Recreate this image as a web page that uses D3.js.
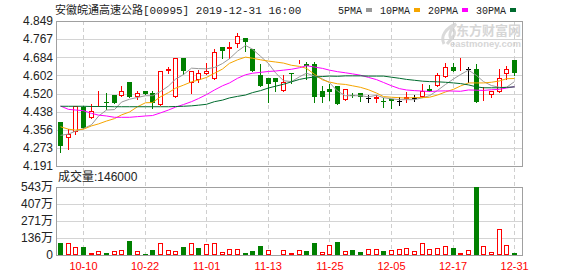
<!DOCTYPE html>
<html>
<head>
<meta charset="utf-8">
<script src="https://cdn.jsdelivr.net/npm/d3@7/dist/d3.min.js"></script>
<style>
  body { margin: 0; background: #fff; }
  text { font-family: Arial, "Liberation Sans", "Noto Sans CJK SC", sans-serif; }
</style>
</head>
<body>
<div id="chart"></div>
<script>
const dates = [
  '10-04','10-08','10-09','10-10','10-11','10-14','10-15','10-16','10-17','10-18',
  '10-21','10-22','10-23','10-24','10-25','10-28','10-29','10-30','10-31','11-01',
  '11-04','11-05','11-06','11-07','11-08','11-11','11-12','11-13','11-14','11-15',
  '11-18','11-19','11-20','11-21','11-22','11-25','11-26','11-27','11-28','11-29',
  '12-02','12-03','12-04','12-05','12-06','12-09','12-10','12-11','12-12','12-13',
  '12-16','12-17','12-18','12-19','12-20','12-23','12-24','12-27','12-30','12-31'
]
const open = [
  4.389,4.317,4.347,4.457,4.407,4.476,4.483,4.513,4.509,4.572,
  4.506,4.531,4.522,4.467,4.622,4.506,4.682,4.566,4.581,4.607,
  4.584,4.731,4.723,4.743,4.770,4.722,4.604,4.589,4.589,4.533,
  4.614,4.657,4.653,4.654,4.531,4.540,4.554,4.491,4.513,4.522,
  4.501,4.494,4.487,4.496,4.485,4.497,4.501,4.506,4.540,4.556,
  4.594,4.640,4.625,4.630,4.630,4.501,4.515,4.525,4.607,4.672
]
const high = [
  4.392,4.360,4.463,4.463,4.472,4.531,4.521,4.513,4.555,4.572,
  4.531,4.531,4.531,4.622,4.642,4.682,4.682,4.622,4.627,4.657,
  4.722,4.731,4.754,4.793,4.770,4.722,4.653,4.589,4.589,4.604,
  4.614,4.672,4.663,4.663,4.554,4.562,4.554,4.539,4.522,4.522,
  4.515,4.513,4.498,4.496,4.503,4.528,4.515,4.562,4.559,4.613,
  4.657,4.657,4.682,4.639,4.653,4.551,4.533,4.631,4.645,4.672
]
const low = [
  4.253,4.268,4.335,4.365,4.407,4.463,4.448,4.476,4.509,4.506,
  4.494,4.518,4.453,4.467,4.614,4.506,4.609,4.524,4.571,4.607,
  4.584,4.682,4.682,4.732,4.714,4.623,4.555,4.483,4.533,4.533,
  4.569,4.657,4.584,4.483,4.483,4.491,4.472,4.491,4.506,4.485,
  4.483,4.483,4.457,4.456,4.468,4.480,4.487,4.506,4.531,4.556,
  4.594,4.623,4.625,4.574,4.483,4.491,4.506,4.525,4.584,4.604
]
const close = [
  4.283,4.338,4.463,4.365,4.439,4.481,4.476,4.476,4.531,4.506,
  4.521,4.518,4.476,4.622,4.631,4.680,4.622,4.622,4.612,4.622,
  4.710,4.714,4.731,4.781,4.754,4.623,4.555,4.565,4.574,4.571,
  4.607,4.664,4.646,4.506,4.506,4.525,4.472,4.539,4.510,4.505,
  4.501,4.504,4.483,4.485,4.485,4.504,4.501,4.530,4.531,4.603,
  4.642,4.623,4.630,4.630,4.483,4.504,4.533,4.589,4.631,4.612
]
const volume = [
  960000,960000,640000,640000,190000,320000,190000,320000,400000,1140000,
  320000,100000,400000,960000,400000,320000,640000,960000,590000,880000,
  960000,240000,480000,480000,190000,320000,720000,400000,80000,400000,
  160000,400000,320000,960000,240000,800000,1040000,320000,400000,240000,
  480000,480000,320000,400000,480000,560000,320000,960000,480000,560000,
  720000,590000,160000,400000,5430000,720000,240000,2080000,800000,146000
]
// 1 = red (up) volume bar, 0 = green
const volUp = [
  0,1,1,0,1,1,0,1,1,0,
  1,0,0,1,1,1,0,1,0,1,
  1,1,1,1,0,0,0,1,1,1,
  1,1,0,0,1,1,0,1,0,0,
  1,1,0,1,1,1,1,1,1,1,
  1,0,1,1,0,1,1,1,1,0
]
const ma5 = [
  4.330,4.336,4.349,4.361,4.378,4.417,4.445,4.447,4.481,4.494,
  4.502,4.510,4.510,4.529,4.554,4.585,4.606,4.635,4.633,4.632,
  4.638,4.656,4.678,4.712,4.738,4.721,4.689,4.656,4.614,4.578,
  4.574,4.596,4.612,4.599,4.586,4.569,4.531,4.510,4.510,4.510,
  4.505,4.512,4.501,4.496,4.492,4.492,4.492,4.501,4.510,4.534,
  4.561,4.586,4.606,4.626,4.602,4.574,4.556,4.548,4.548,4.574
]
const ma10 = [
  4.369,4.358,4.354,4.358,4.373,4.382,4.395,4.406,4.423,4.436,
  4.460,4.478,4.479,4.505,4.524,4.544,4.558,4.573,4.581,4.593,
  4.612,4.631,4.657,4.673,4.685,4.680,4.673,4.667,4.663,4.658,
  4.648,4.643,4.634,4.607,4.582,4.572,4.564,4.561,4.555,4.548,
  4.537,4.522,4.506,4.503,4.501,4.499,4.502,4.501,4.503,4.513,
  4.527,4.539,4.554,4.568,4.568,4.568,4.571,4.577,4.587,4.588
]
const ma20 = [
  4.463,4.448,4.445,4.442,4.430,4.422,4.418,4.412,4.412,4.412,
  4.415,4.418,4.420,4.432,4.445,4.458,4.470,4.483,4.497,4.515,
  4.536,4.555,4.568,4.589,4.605,4.612,4.616,4.620,4.622,4.626,
  4.630,4.637,4.646,4.640,4.634,4.626,4.619,4.614,4.609,4.603,
  4.593,4.583,4.570,4.555,4.542,4.536,4.533,4.531,4.529,4.531,
  4.532,4.531,4.530,4.536,4.535,4.534,4.537,4.539,4.545,4.551
]
const ma30 = [
  4.462,4.462,4.462,4.462,4.461,4.461,4.461,4.460,4.460,4.460,
  4.460,4.460,4.460,4.460,4.460,4.461,4.462,4.464,4.467,4.471,
  4.483,4.490,4.500,4.507,4.513,4.524,4.533,4.545,4.553,4.562,
  4.573,4.584,4.590,4.595,4.597,4.599,4.598,4.600,4.600,4.600,
  4.599,4.599,4.599,4.594,4.589,4.584,4.580,4.576,4.574,4.573,
  4.571,4.568,4.565,4.559,4.550,4.546,4.546,4.546,4.548,4.550
]
const priceTicks = [4.849, 4.767, 4.684, 4.602, 4.520, 4.438, 4.356, 4.273, 4.191]
const volTicks = [5430000, 4072500, 2715000, 1357500, 0]
const volTickLabels = ['543万', '407万', '271万', '136万', '0']
const dateTicks = ['10-10', '10-22', '11-01', '11-13', '11-25', '12-05', '12-17', '12-31']
const maNames = ['5PMA', '10PMA', '20PMA', '30PMA']
const maColors = ['#999999', '#f5a500', '#ff00ff', '#006b2e']

const Width = 578
const Height = 276
const Left = 56, Right = 522
const PTop = 21, PBottom = 166
const VTop = 187, VBottom = 255
const Red = '#ff0000', Green = '#008000'

const svg = d3.select('#chart').append('svg')
  .attr('width', Width)
  .attr('height', Height)

const x = d3.scaleBand().domain(dates).range([Left, 518])
const y = d3.scaleLinear().domain([4.191, 4.849]).range([PBottom, PTop])
const yv = d3.scaleLinear().domain([0, 5430000]).range([VBottom, VTop])
const cx = d => Math.round(x(d) + x.bandwidth() / 2)

// watermark
svg.append('text').attr('x', 521).attr('y', 35).attr('text-anchor', 'end')
  .attr('font-size', 13).attr('font-weight', 'bold').attr('fill', '#d6d6d6')
  .style('font-family', '"Noto Sans CJK SC", sans-serif')
  .text('东方财富网')
svg.append('text').attr('x', 521).attr('y', 47).attr('text-anchor', 'end')
  .attr('font-size', 9.5).attr('font-weight', 'bold').attr('fill', '#d6d6d6')
  .text('eastmoney.com')
svg.append('path')
  .attr('d', 'M444,44 C440,36 446,28 456,24 C450,30 448,36 452,40 M447,44 C452,38 458,34 452,28')
  .attr('fill', 'none').attr('stroke', '#dadada').attr('stroke-width', 3)

// horizontal grid
svg.append('g').selectAll('line').data(priceTicks).enter().append('line')
  .attr('x1', Left).attr('x2', Right)
  .attr('y1', d => Math.round(y(d)) + 0.5).attr('y2', d => Math.round(y(d)) + 0.5)
  .attr('stroke', '#d4d4d4')
svg.append('g').selectAll('line').data(volTicks).enter().append('line')
  .attr('x1', Left).attr('x2', Right)
  .attr('y1', d => Math.round(yv(d)) + 0.5).attr('y2', d => Math.round(yv(d)) + 0.5)
  .attr('stroke', '#d4d4d4')

// vertical dashed grid
svg.append('g').selectAll('line').data(dateTicks).enter().append('line')
  .attr('x1', d => cx(d) + 0.5).attr('x2', d => cx(d) + 0.5)
  .attr('y1', PTop).attr('y2', VBottom)
  .attr('stroke', '#cfcfcf').attr('stroke-dasharray', '4,3')

// panel borders
svg.append('rect').attr('x', Left + 0.5).attr('y', PTop + 0.5)
  .attr('width', Right - Left).attr('height', PBottom - PTop)
  .attr('fill', 'none').attr('stroke', '#a0a0a0')
svg.append('rect').attr('x', Left + 0.5).attr('y', VTop + 0.5)
  .attr('width', Right - Left).attr('height', VBottom - VTop)
  .attr('fill', 'none').attr('stroke', '#a0a0a0')

// axes labels
const yAxis = svg.append('g').attr('transform', `translate(${Left},0)`)
  .call(d3.axisLeft(y).tickValues(priceTicks).tickSize(0).tickPadding(3).tickFormat(d3.format('.3f')))
yAxis.select('.domain').remove()
yAxis.selectAll('text').attr('font-size', 12).attr('fill', '#222')
  .style('font-family', 'Arial, "Liberation Sans", sans-serif')

const vAxis = svg.append('g').attr('transform', `translate(${Left},0)`)
  .call(d3.axisLeft(yv).tickValues(volTicks).tickSize(0).tickPadding(3)
    .tickFormat((d, i) => volTickLabels[i]))
vAxis.select('.domain').remove()
vAxis.selectAll('text').attr('font-size', 12).attr('fill', '#222')
  .style('font-family', 'Arial, "Liberation Sans", "Noto Sans CJK SC", sans-serif')

const xAxis = svg.append('g').attr('transform', `translate(0.5,${VBottom})`)
  .call(d3.axisBottom(x).tickValues(dateTicks).tickSize(0).tickPadding(7))
xAxis.select('.domain').remove()
xAxis.selectAll('text').attr('font-size', 11).attr('fill', Red)
  .style('font-family', 'Arial, "Liberation Sans", sans-serif')

// candles
const idx = d3.range(dates.length)
const candles = svg.append('g').selectAll('g').data(idx).enter().append('g')
const colorOf = i => close[i] > open[i] ? Red : (close[i] < open[i] ? Green : '#000')

candles.append('line')
  .attr('x1', i => cx(dates[i]) + 0.5).attr('x2', i => cx(dates[i]) + 0.5)
  .attr('y1', i => Math.round(y(high[i]))).attr('y2', i => Math.round(y(low[i])) + 1)
  .attr('stroke', colorOf)

candles.filter(i => close[i] < open[i]).append('rect')
  .attr('x', i => cx(dates[i]) - 2)
  .attr('y', i => Math.round(y(open[i])))
  .attr('width', 5)
  .attr('height', i => Math.max(1, Math.round(y(close[i])) - Math.round(y(open[i]))))
  .attr('fill', Green)

candles.filter(i => close[i] > open[i]).append('rect')
  .attr('x', i => cx(dates[i]) - 1.5)
  .attr('y', i => Math.round(y(close[i])) + 0.5)
  .attr('width', 4)
  .attr('height', i => Math.max(0, Math.round(y(open[i])) - Math.round(y(close[i])) - 1))
  .attr('fill', '#fff').attr('stroke', Red)

candles.filter(i => close[i] === open[i]).append('line')
  .attr('x1', i => cx(dates[i]) - 2).attr('x2', i => cx(dates[i]) + 3)
  .attr('y1', i => Math.round(y(close[i])) + 0.5).attr('y2', i => Math.round(y(close[i])) + 0.5)
  .attr('stroke', '#000')

// moving averages
const mas = [ma5, ma10, ma20, ma30]
mas.forEach((ma, k) => {
  const line = d3.line()
    .x((d, i) => cx(dates[i]) + 0.5)
    .y(d => y(d))
  svg.append('path').datum(ma)
    .attr('d', line)
    .attr('fill', 'none')
    .attr('stroke', maColors[k])
    .attr('stroke-width', 1)
})

// volume bars
const vols = svg.append('g').selectAll('g').data(idx).enter().append('g')
vols.filter(i => !volUp[i]).append('rect')
  .attr('x', i => cx(dates[i]) - 2)
  .attr('y', i => Math.round(yv(volume[i])))
  .attr('width', 5)
  .attr('height', i => Math.max(1, VBottom - Math.round(yv(volume[i]))))
  .attr('fill', Green)
vols.filter(i => volUp[i]).append('rect')
  .attr('x', i => cx(dates[i]) - 1.5)
  .attr('y', i => Math.round(yv(volume[i])) + 0.5)
  .attr('width', 4)
  .attr('height', i => Math.max(0, VBottom - Math.round(yv(volume[i])) - 1))
  .attr('fill', '#fff').attr('stroke', Red)

// title
svg.append('text').attr('x', 55).attr('y', 14)
  .attr('font-size', 11).attr('fill', '#222')
  .style('font-family', '"Liberation Mono", "Noto Sans CJK SC", monospace')
  .text('安徽皖通高速公路[00995] 2019-12-31 16:00')

// legend
let lx = 338
maNames.forEach((name, k) => {
  const t = svg.append('text').attr('x', lx).attr('y', 14)
    .attr('font-size', 10).attr('fill', '#222')
    .style('font-family', '"Liberation Mono", monospace')
    .text(name)
  const w = t.node().getComputedTextLength()
  svg.append('rect').attr('x', Math.round(lx + w + 4)).attr('y', 8)
    .attr('width', 6).attr('height', 4).attr('fill', maColors[k])
  lx = Math.round(lx + w + 4 + 6 + 8)
})

// volume caption
svg.append('text').attr('x', 58).attr('y', 181)
  .attr('font-size', 12).attr('fill', '#222')
  .text('成交量:' + volume[volume.length - 1])
</script>
</body>
</html>
